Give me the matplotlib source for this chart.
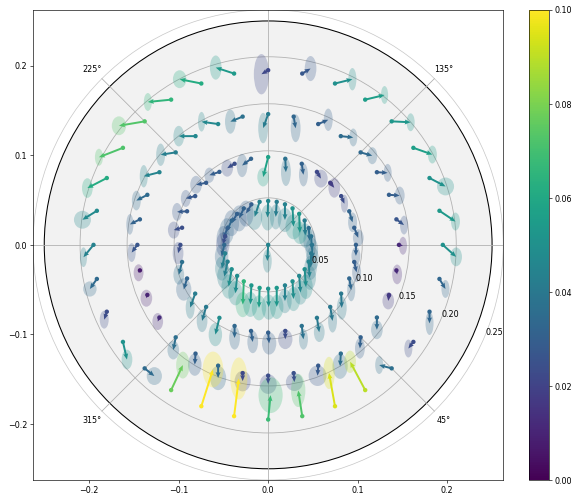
import numpy as np
import matplotlib
matplotlib.use("Agg")
import matplotlib.pyplot as plt
from matplotlib.patches import Ellipse, Circle
from matplotlib.colors import Normalize
from matplotlib.cm import ScalarMappable

# Sample layout: 4 rings of 32 field points plus the field centre
ANGLES_DEG = [0.0, 11.25, 22.5, 33.75, 45.0, 56.25, 67.5, 78.75,
              90.0, 101.25, 112.5, 123.75, 135.0, 146.25, 157.5, 168.75,
              180.0, 191.25, 202.5, 213.75, 225.0, 236.25, 247.5, 258.75,
              270.0, 281.25, 292.5, 303.75, 315.0, 326.25, 337.5, 348.75]
RING_RADII = [0.049, 0.098, 0.146, 0.195]

# Centre point: shift and error ellipse
CENTER_SHIFT = (-0.001, -0.018)
CENTER_ELLIPSE = (0.010, 0.026)

# Shifts (data units) per ring, ordered by ANGLES_DEG
RING1_DX = [0.0005, 0.0007, 0.0011, 0.0007, 0.0007, 0.0011, 0.0, -0.0011,
            -0.0007, -0.0056, -0.0060, -0.0052, -0.0063, -0.0056, -0.0048, -0.0026,
            -0.0030, -0.0037, -0.0037, -0.0034, -0.0019, -0.0011, -0.0011, -0.0007,
            0.0007, 0.0, 0.0, 0.0011, 0.0015, 0.0015, 0.0011, -0.0007]
RING1_DY = [-0.0155, -0.0150, -0.0142, -0.0168, -0.0212, -0.0205, -0.0175, -0.0168,
            -0.0185, -0.0168, -0.0104, -0.0112, -0.0104, -0.0120, -0.0112, -0.0093,
            -0.0130, -0.0168, -0.0168, -0.0194, -0.0194, -0.0260, -0.0212, -0.0223,
            -0.0205, -0.0212, -0.0175, -0.0197, -0.0186, -0.0197, -0.0179, -0.0160]

RING2_DX = [0.0, 0.0045, 0.0037, 0.0037, 0.0045, 0.0045, 0.0019, 0.0007,
            -0.0056, -0.0100, -0.0082, -0.0112, -0.0112, -0.0105, -0.0112, -0.0093,
            -0.0026, -0.0037, -0.0037, -0.0056, -0.0045, -0.0045, 0.0, 0.0019,
            0.0011, 0.0, 0.0019, 0.0026, 0.0026, 0.0007, 0.0022, 0.0026]
RING2_DY = [-0.0123, -0.0112, -0.0123, -0.0085, -0.0056, -0.0075, -0.0123, -0.0149,
            -0.0223, -0.0075, -0.0049, -0.0037, -0.0022, -0.0026, -0.0007, -0.0026,
            -0.0093, -0.0142, -0.0123, -0.0156, -0.0156, -0.0187, -0.0134, -0.0123,
            -0.0120, -0.0093, -0.0149, -0.0160, -0.0156, -0.0160, -0.0130, -0.0115]

RING3_DX = [0.0045, 0.0085, 0.0120, 0.0120, 0.0130, 0.0139, 0.0112, 0.0022,
            -0.0056, -0.0137, -0.0185, -0.0187, -0.0168, -0.0175, -0.0123, -0.0112,
            -0.0064, -0.0015, -0.0011, -0.0019, -0.0027, -0.0008, 0.0, 0.0,
            0.0, 0.0008, -0.0007, -0.0008, -0.0008, 0.0, -0.0008, 0.0008]
RING3_DY = [-0.0010, -0.0064, -0.0008, -0.0007, -0.0037, -0.0015, 0.0048, -0.0130,
            -0.0156, -0.0056, 0.0026, 0.0, -0.0026, -0.0045, -0.0064, -0.0056,
            -0.0086, -0.0027, -0.0037, -0.0045, -0.0142, -0.0123, -0.0138, -0.0089,
            -0.0094, -0.0100, -0.0112, -0.0142, -0.0123, -0.0137, -0.0067, -0.0045]

RING4_DX = [0.0149, 0.0179, 0.0179, 0.0212, 0.0212, 0.0216, 0.0194, 0.0093,
            -0.0075, -0.0205, -0.0242, -0.0260, -0.0287, -0.0268, -0.0217, -0.0161,
            -0.0112, -0.0078, -0.0029, 0.0045, 0.0108, 0.0131, 0.0130, 0.0053,
            0.0027, -0.0045, -0.0067, -0.0168, -0.0139, -0.0056, 0.0, 0.0067]
RING4_DY = [-0.0134, -0.0120, -0.0094, -0.0075, -0.0010, 0.0052, 0.0048, 0.0056,
            -0.0045, 0.0067, 0.0048, -0.0026, -0.0049, -0.0105, -0.0112, -0.0100,
            -0.0138, -0.0112, -0.0089, -0.0197, -0.0086, 0.0279, 0.0410, 0.0421,
            0.0272, 0.0287, 0.0372, 0.0316, 0.0037, -0.0074, -0.0130, -0.0112]

# Error ellipse full widths / heights (data units) per ring
RING1_EW = [.014, .014, .014, .015, .016, .018, .016, .013, .015, .017, .017, .017, .017, .016, .015, .015,
            .015, .015, .016, .016, .016, .016, .016, .016, .016, .015, .015, .015, .015, .015, .014, .014]
RING1_EH = [.027, .027, .027, .027, .025, .028, .027, .028, .029, .029, .029, .029, .029, .029, .027, .027,
            .027, .027, .027, .027, .027, .028, .028, .028, .028, .027, .027, .027, .027, .027, .027, .027]
RING2_EW = [.010, .012, .010, .008, .013, .015, .010, .011, .013, .012, .013, .011, .013, .011, .011, .013,
            .012, .012, .017, .010, .012, .015, .012, .012, .016, .016, .010, .012, .010, .011, .009, .010]
RING2_EH = [.020, .019, .022, .020, .022, .020, .026, .031, .021, .026, .019, .017, .020, .019, .020, .019,
            .025, .022, .025, .025, .025, .026, .026, .025, .025, .022, .023, .022, .026, .026, .025, .022]
RING3_EW = [.009, .009, .011, .009, .011, .009, .010, .011, .011, .012, .008, .012, .010, .009, .010, .008,
            .009, .011, .013, .012, .013, .015, .018, .018, .019, .019, .020, .017, .011, .013, .013, .011]
RING3_EH = [.020, .021, .020, .020, .019, .020, .025, .031, .034, .027, .022, .023, .025, .025, .022, .023,
            .021, .019, .019, .019, .021, .025, .027, .023, .022, .020, .023, .028, .023, .021, .019, .022]
RING4_EW = [.013, .010, .019, .010, .009, .008, .009, .013, .017, .013, .015, .009, .016, .009, .012, .019,
            .008, .015, .010, .012, .017, .015, .023, .019, .027, .016, .013, .013, .009, .009, .009, .009]
RING4_EH = [.021, .020, .020, .020, .020, .020, .025, .028, .045, .027, .020, .020, .021, .019, .022, .020,
            .022, .017, .020, .022, .020, .030, .040, .047, .040, .037, .036, .025, .020, .020, .026, .020]

# Arrow length (data units) per unit of plotted residual
ARROW_SCALE = 0.4
VMIN, VMAX = 0.0, 0.10
GRID_R = [0.05, 0.10, 0.15, 0.20, 0.25]
GRID_LABELS = ["0.05", "0.10", "0.15", "0.20", "0.25"]
THETA_LABELS = {"45°": -45.0, "135°": 45.0, "225°": 135.0, "315°": -135.0}

# ---- assemble point set ----
ang = np.deg2rad(np.array(ANGLES_DEG))
xs, ys = [0.0], [0.0]
dxs, dys = [CENTER_SHIFT[0]], [CENTER_SHIFT[1]]
ews, ehs = [CENTER_ELLIPSE[0]], [CENTER_ELLIPSE[1]]
rings = [(RING1_DX, RING1_DY, RING1_EW, RING1_EH),
         (RING2_DX, RING2_DY, RING2_EW, RING2_EH),
         (RING3_DX, RING3_DY, RING3_EW, RING3_EH),
         (RING4_DX, RING4_DY, RING4_EW, RING4_EH)]
for r, (dx, dy, ew, eh) in zip(RING_RADII, rings):
    xs.extend(r * np.cos(ang)); ys.extend(r * np.sin(ang))
    dxs.extend(dx); dys.extend(dy); ews.extend(ew); ehs.extend(eh)
xs, ys = np.array(xs), np.array(ys)
dxs, dys = np.array(dxs), np.array(dys)
resid = np.hypot(dxs, dys) / ARROW_SCALE

cmap = plt.get_cmap("viridis")
norm = Normalize(VMIN, VMAX)
cols = cmap(norm(resid))

# ---- figure ----
fig = plt.figure(figsize=(10, 8.6), dpi=57.7)
ax = fig.add_axes([0.0572, 0.0323, 0.8151, 0.9476])
cax = fig.add_axes([0.9173, 0.0323, 0.0341, 0.9476])

lim = 0.2625
ax.set_xlim(-lim, lim)
ax.set_ylim(-lim, lim)
ax.set_aspect("equal", adjustable="box")

# field disk and polar grid
ax.add_patch(Circle((0, 0), 0.25, facecolor="#f2f2f2", edgecolor="black", lw=1.3, zorder=0))
ax.add_patch(Circle((0, 0), lim, facecolor="none", edgecolor="#c8c8c8", lw=0.9, zorder=0.5))
for r in GRID_R[:-1]:
    ax.add_patch(Circle((0, 0), r * 1.05, facecolor="none", edgecolor="#b0b0b0", lw=1.0, zorder=1))
for a in range(0, 360, 45):
    t = np.deg2rad(a)
    ax.plot([0, lim * np.cos(t)], [0, lim * np.sin(t)], color="#b0b0b0", lw=1.0, zorder=1)
t = np.deg2rad(-22.5)
for r, lab in zip(GRID_R, GRID_LABELS):
    ax.text(1.05 * r * np.cos(t), 1.05 * r * np.sin(t), lab, ha="left", va="baseline",
            fontsize=10, zorder=6)
for lab, a in THETA_LABELS.items():
    t = np.deg2rad(a)
    ax.text(0.2775 * np.cos(t), 0.2775 * np.sin(t), lab, ha="center", va="center", fontsize=10)

# error ellipses at the shifted positions
for x, y, dx, dy, w, h, c in zip(xs, ys, dxs, dys, ews, ehs, cols):
    ax.add_patch(Ellipse((x + dx, y + dy), w, h, facecolor=c, edgecolor="none",
                         alpha=0.27, zorder=2))

# shift arrows and their origin markers
ax.quiver(xs, ys, dxs, dys, resid, cmap=cmap, norm=norm, angles="xy",
          scale_units="xy", scale=1, width=0.0042, headwidth=2.5, headlength=3.0,
          headaxislength=2.7, zorder=3)
ax.scatter(xs, ys, c=resid, cmap=cmap, norm=norm, s=30, zorder=4, linewidths=0)

ax.set_xticks([-0.2, -0.1, 0.0, 0.1, 0.2])
ax.set_yticks([-0.2, -0.1, 0.0, 0.1, 0.2])

cb = fig.colorbar(ScalarMappable(norm=norm, cmap=cmap), cax=cax,
                  ticks=[0.0, 0.02, 0.04, 0.06, 0.08, 0.10])

fig.savefig("out.png", dpi=57.7)
